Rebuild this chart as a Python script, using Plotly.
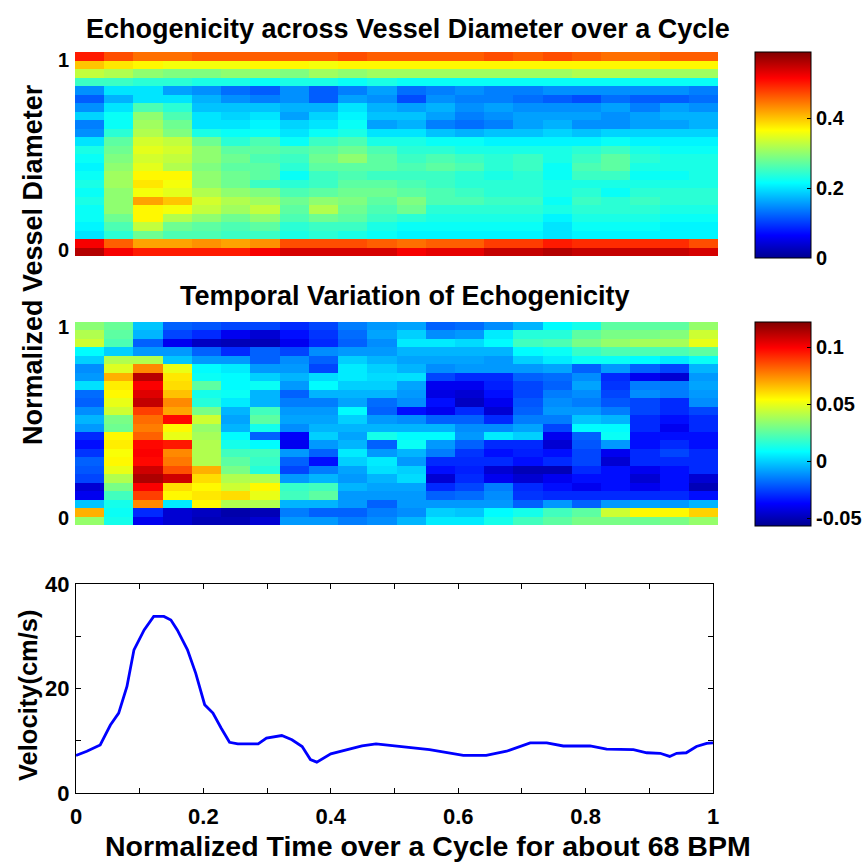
import numpy as np
import plotly.graph_objects as go

# ---------------- data ----------------
# Echogenicity (top map): one list per time column (22 columns), rows listed from top (diameter 1) to bottom (0)
echo_cols = [
    [0.50, 0.40, 0.33, 0.25, 0.15, 0.12, 0.15, 0.19, 0.14, 0.15, 0.20, 0.23, 0.22, 0.21, 0.22, 0.23, 0.22, 0.23, 0.22, 0.22, 0.21, 0.20, 0.52, 0.56],
    [0.47, 0.38, 0.32, 0.25, 0.20, 0.17, 0.20, 0.22, 0.22, 0.24, 0.27, 0.28, 0.29, 0.30, 0.31, 0.31, 0.30, 0.30, 0.30, 0.28, 0.26, 0.24, 0.46, 0.52],
    [0.45, 0.37, 0.30, 0.24, 0.20, 0.20, 0.26, 0.30, 0.31, 0.32, 0.34, 0.35, 0.34, 0.35, 0.37, 0.38, 0.36, 0.42, 0.37, 0.37, 0.33, 0.28, 0.42, 0.50],
    [0.45, 0.36, 0.29, 0.24, 0.16, 0.20, 0.24, 0.26, 0.28, 0.29, 0.33, 0.34, 0.33, 0.32, 0.37, 0.36, 0.35, 0.40, 0.36, 0.32, 0.28, 0.26, 0.42, 0.50],
    [0.46, 0.36, 0.29, 0.23, 0.15, 0.17, 0.18, 0.20, 0.20, 0.23, 0.28, 0.30, 0.30, 0.29, 0.30, 0.30, 0.32, 0.34, 0.33, 0.30, 0.27, 0.26, 0.43, 0.50],
    [0.46, 0.36, 0.30, 0.23, 0.13, 0.15, 0.18, 0.19, 0.20, 0.22, 0.24, 0.27, 0.28, 0.27, 0.28, 0.28, 0.30, 0.32, 0.31, 0.28, 0.26, 0.25, 0.42, 0.50],
    [0.46, 0.37, 0.30, 0.22, 0.12, 0.14, 0.18, 0.20, 0.21, 0.22, 0.26, 0.27, 0.26, 0.27, 0.27, 0.25, 0.29, 0.31, 0.33, 0.30, 0.27, 0.25, 0.43, 0.52],
    [0.46, 0.37, 0.29, 0.23, 0.15, 0.15, 0.17, 0.16, 0.19, 0.20, 0.22, 0.26, 0.25, 0.24, 0.22, 0.24, 0.26, 0.28, 0.27, 0.26, 0.24, 0.23, 0.47, 0.54],
    [0.46, 0.36, 0.31, 0.23, 0.12, 0.12, 0.17, 0.19, 0.20, 0.22, 0.25, 0.27, 0.28, 0.27, 0.25, 0.25, 0.27, 0.30, 0.32, 0.28, 0.25, 0.24, 0.47, 0.54],
    [0.47, 0.37, 0.30, 0.22, 0.14, 0.16, 0.20, 0.21, 0.22, 0.23, 0.26, 0.28, 0.30, 0.27, 0.26, 0.27, 0.28, 0.29, 0.28, 0.27, 0.25, 0.23, 0.47, 0.54],
    [0.46, 0.37, 0.31, 0.23, 0.16, 0.15, 0.17, 0.18, 0.16, 0.20, 0.23, 0.26, 0.27, 0.27, 0.25, 0.27, 0.28, 0.27, 0.26, 0.25, 0.23, 0.22, 0.46, 0.54],
    [0.46, 0.37, 0.31, 0.22, 0.13, 0.11, 0.16, 0.18, 0.17, 0.20, 0.23, 0.24, 0.25, 0.26, 0.25, 0.26, 0.27, 0.29, 0.28, 0.24, 0.22, 0.21, 0.45, 0.52],
    [0.46, 0.37, 0.31, 0.22, 0.14, 0.15, 0.17, 0.16, 0.14, 0.18, 0.22, 0.24, 0.26, 0.27, 0.25, 0.25, 0.26, 0.26, 0.24, 0.23, 0.22, 0.21, 0.46, 0.53],
    [0.46, 0.37, 0.31, 0.22, 0.15, 0.14, 0.15, 0.14, 0.13, 0.17, 0.22, 0.23, 0.25, 0.26, 0.24, 0.24, 0.25, 0.26, 0.24, 0.23, 0.22, 0.21, 0.46, 0.53],
    [0.47, 0.37, 0.31, 0.22, 0.14, 0.14, 0.16, 0.15, 0.14, 0.18, 0.21, 0.23, 0.24, 0.24, 0.23, 0.24, 0.24, 0.25, 0.24, 0.23, 0.22, 0.21, 0.48, 0.55],
    [0.46, 0.37, 0.31, 0.22, 0.14, 0.13, 0.15, 0.16, 0.16, 0.18, 0.21, 0.23, 0.25, 0.25, 0.24, 0.24, 0.24, 0.25, 0.24, 0.23, 0.22, 0.21, 0.48, 0.55],
    [0.47, 0.37, 0.31, 0.22, 0.15, 0.12, 0.15, 0.16, 0.17, 0.19, 0.21, 0.23, 0.23, 0.22, 0.22, 0.23, 0.23, 0.22, 0.23, 0.21, 0.20, 0.20, 0.50, 0.56],
    [0.46, 0.37, 0.32, 0.22, 0.15, 0.11, 0.15, 0.16, 0.15, 0.18, 0.21, 0.24, 0.25, 0.26, 0.25, 0.23, 0.24, 0.25, 0.24, 0.23, 0.22, 0.21, 0.49, 0.55],
    [0.45, 0.37, 0.32, 0.22, 0.15, 0.13, 0.16, 0.15, 0.15, 0.19, 0.22, 0.25, 0.27, 0.27, 0.25, 0.23, 0.22, 0.24, 0.24, 0.23, 0.22, 0.21, 0.49, 0.55],
    [0.45, 0.37, 0.31, 0.22, 0.15, 0.12, 0.14, 0.16, 0.16, 0.19, 0.21, 0.23, 0.24, 0.23, 0.22, 0.23, 0.24, 0.25, 0.24, 0.23, 0.22, 0.21, 0.49, 0.55],
    [0.46, 0.37, 0.31, 0.22, 0.15, 0.12, 0.16, 0.17, 0.16, 0.19, 0.21, 0.22, 0.23, 0.23, 0.22, 0.23, 0.24, 0.24, 0.23, 0.22, 0.21, 0.21, 0.49, 0.55],
    [0.46, 0.37, 0.31, 0.22, 0.14, 0.13, 0.15, 0.17, 0.17, 0.19, 0.21, 0.22, 0.23, 0.23, 0.23, 0.23, 0.24, 0.24, 0.23, 0.22, 0.21, 0.21, 0.47, 0.54],
]

# Temporal variation of echogenicity (middle map), same layout
var_cols = [
    [0.033, 0.040, 0.045, 0.008, 0.000, -0.012, -0.010, 0.003, -0.018, -0.020, -0.012, -0.005, -0.010, -0.030, -0.035, -0.028, -0.020, -0.022, -0.025, -0.045, -0.040, -0.002, 0.068, 0.035],
    [0.027, 0.025, 0.022, 0.000, 0.040, 0.048, 0.068, 0.057, 0.055, 0.050, 0.045, 0.030, 0.028, 0.055, 0.057, 0.053, 0.055, 0.050, 0.040, 0.030, 0.020, 0.012, 0.010, 0.012],
    [-0.002, -0.005, -0.020, -0.010, 0.040, 0.075, 0.112, 0.100, 0.105, 0.110, 0.088, 0.080, 0.077, 0.082, 0.098, 0.100, 0.098, 0.108, 0.114, 0.100, 0.088, 0.075, -0.030, -0.040],
    [-0.020, -0.025, -0.040, -0.010, -0.002, 0.050, 0.058, 0.060, 0.065, 0.075, 0.070, 0.098, 0.055, 0.050, 0.095, 0.075, 0.078, 0.085, 0.108, 0.060, 0.055, 0.005, -0.045, -0.045],
    [-0.022, -0.030, -0.048, -0.020, -0.010, 0.008, 0.010, 0.025, 0.012, 0.015, 0.030, 0.045, 0.035, 0.038, 0.040, 0.040, 0.040, 0.068, 0.060, 0.055, 0.058, 0.055, -0.048, -0.050],
    [-0.025, -0.040, -0.050, -0.030, -0.010, 0.005, 0.008, 0.008, 0.010, 0.005, -0.005, -0.008, -0.005, 0.008, 0.012, 0.020, 0.025, 0.030, 0.040, 0.045, 0.060, 0.040, -0.052, -0.050],
    [-0.025, -0.045, -0.050, -0.020, -0.020, -0.010, 0.000, 0.010, -0.005, -0.005, 0.020, 0.025, 0.012, -0.020, 0.008, 0.020, 0.018, 0.015, 0.040, 0.055, 0.050, 0.040, -0.050, -0.045],
    [-0.030, -0.035, -0.040, -0.025, -0.012, -0.010, -0.005, -0.010, -0.020, -0.015, -0.010, -0.008, -0.012, -0.038, -0.040, -0.010, -0.020, -0.025, -0.010, 0.018, 0.020, -0.005, -0.015, -0.010],
    [-0.025, -0.028, -0.030, -0.012, -0.020, -0.025, 0.002, 0.008, -0.005, -0.015, -0.010, -0.008, -0.005, 0.000, -0.010, -0.020, -0.035, -0.015, -0.005, 0.020, 0.025, -0.005, -0.020, -0.010],
    [-0.015, -0.018, -0.020, -0.010, 0.000, 0.005, 0.005, 0.000, -0.005, -0.008, 0.008, 0.000, -0.005, -0.008, -0.005, 0.005, 0.000, -0.008, -0.010, -0.005, -0.010, -0.010, -0.020, -0.015],
    [-0.010, -0.008, -0.012, -0.010, -0.005, 0.000, 0.002, 0.000, -0.005, -0.018, -0.020, -0.010, -0.005, 0.012, -0.020, -0.010, 0.005, 0.003, -0.005, -0.008, -0.010, -0.020, -0.015, -0.012],
    [-0.008, 0.000, 0.005, -0.005, -0.008, -0.005, 0.003, -0.008, -0.010, -0.012, -0.035, -0.012, -0.005, 0.008, 0.010, -0.005, -0.010, 0.000, 0.002, -0.008, -0.010, -0.010, -0.012, -0.005],
    [-0.020, -0.012, 0.005, -0.005, -0.008, -0.012, -0.025, -0.040, -0.042, -0.035, -0.040, -0.020, -0.005, 0.008, -0.010, -0.015, -0.030, -0.035, -0.045, -0.030, -0.020, -0.010, 0.000, 0.005],
    [-0.018, -0.010, 0.002, -0.005, -0.008, -0.010, -0.030, -0.040, -0.045, -0.048, -0.030, -0.020, -0.012, -0.010, -0.020, -0.028, -0.030, -0.032, -0.030, -0.025, -0.018, -0.010, -0.002, 0.005],
    [-0.012, 0.005, 0.008, -0.005, -0.010, -0.010, -0.030, -0.032, -0.035, -0.040, -0.045, -0.030, -0.012, 0.005, -0.030, -0.035, -0.030, -0.045, -0.040, -0.015, -0.012, -0.010, 0.008, 0.012],
    [-0.005, 0.015, 0.020, 0.008, 0.000, -0.010, -0.020, -0.025, -0.025, -0.022, -0.020, -0.015, -0.008, 0.000, -0.030, -0.032, -0.035, -0.050, -0.045, -0.030, -0.028, -0.020, 0.012, 0.020],
    [0.008, 0.015, 0.022, 0.010, 0.005, -0.008, -0.018, -0.020, -0.015, -0.012, -0.010, -0.015, -0.025, -0.040, -0.045, -0.035, -0.030, -0.050, -0.040, -0.035, -0.030, -0.010, 0.020, 0.025],
    [0.012, 0.025, 0.030, 0.018, 0.010, -0.020, -0.012, -0.008, -0.012, -0.015, -0.010, -0.002, 0.008, -0.020, -0.022, -0.025, -0.025, -0.030, -0.035, -0.040, -0.030, -0.020, 0.025, 0.030],
    [0.025, 0.030, 0.035, 0.022, 0.010, -0.010, -0.030, -0.028, -0.025, -0.022, -0.015, -0.005, 0.008, 0.010, -0.010, -0.040, -0.045, -0.035, -0.035, -0.035, -0.030, -0.010, 0.045, 0.030],
    [0.025, 0.030, 0.038, 0.022, 0.008, -0.020, -0.040, -0.015, -0.012, -0.025, -0.025, -0.030, -0.030, -0.035, -0.035, -0.030, -0.030, -0.040, -0.045, -0.040, -0.030, -0.008, 0.055, 0.028],
    [0.025, 0.032, 0.038, 0.022, 0.005, -0.025, -0.045, -0.015, -0.015, -0.030, -0.030, -0.035, -0.040, -0.035, -0.030, -0.025, -0.030, -0.035, -0.035, -0.035, -0.030, -0.010, 0.055, 0.030],
    [0.035, 0.045, 0.050, 0.025, 0.010, -0.005, -0.010, -0.008, -0.010, -0.012, -0.025, -0.030, -0.030, -0.035, -0.035, -0.030, -0.030, -0.030, -0.045, -0.050, -0.035, -0.005, 0.062, 0.035],
]

# Velocity trace
vel_t = [0, 0.017, 0.038, 0.054, 0.067, 0.080, 0.091, 0.107, 0.122, 0.138, 0.149, 0.159, 0.175, 0.188,
         0.202, 0.215, 0.228, 0.241, 0.254, 0.286, 0.299, 0.323, 0.339, 0.355, 0.368, 0.378, 0.400,
         0.428, 0.449, 0.471, 0.508, 0.555, 0.608, 0.644, 0.676, 0.713, 0.739, 0.765, 0.807, 0.833,
         0.875, 0.896, 0.917, 0.932, 0.943, 0.958, 0.974, 0.990, 1.0]
vel_v = [7.2, 8.0, 9.2, 13.0, 15.3, 20.4, 27.4, 31.2, 33.8, 33.8, 33.1, 31.2, 27.4, 22.9,
         16.9, 15.3, 12.4, 9.7, 9.4, 9.4, 10.5, 11.0, 10.2, 8.9, 6.4, 5.9, 7.5,
         8.3, 9.0, 9.4, 8.9, 8.3, 7.2, 7.2, 8.0, 9.6, 9.6, 9.0, 9.0, 8.4,
         8.3, 7.7, 7.6, 7.0, 7.6, 7.7, 8.9, 9.5, 9.6]

x_ticks = [0, 0.1, 0.2, 0.3, 0.4, 0.5, 0.6, 0.7, 0.8, 0.9, 1.0]
x_ticktext = ["0", "", "0.2", "", "0.4", "", "0.6", "", "0.8", "", "1"]
v_ticks = [0, 10, 20, 30, 40]
v_ticktext = ["0", "", "20", "", "40"]

# ---------------- figure ----------------
W, H = 868, 863
FONT = "Liberation Sans, Arial, sans-serif"

jet = [[0.0, "rgb(0,0,143)"], [0.11, "rgb(0,0,255)"], [0.365, "rgb(0,255,255)"],
       [0.62, "rgb(255,255,0)"], [0.873, "rgb(255,0,0)"], [1.0, "rgb(128,0,0)"]]

def px_x(p):
    return p / W

def px_y(p):
    return 1 - p / H

z1 = np.array(echo_cols).T[::-1]
z2 = np.array(var_cols).T[::-1]
ncol = z1.shape[1]
nrow = z1.shape[0]

cb_font = dict(family=FONT, size=20, color="black", weight="bold")
ax_font = dict(family=FONT, size=22, color="black", weight="bold")

fig = go.Figure()

# top map
y1_lo, y1_hi = -0.032, 1.042
fig.add_trace(go.Heatmap(
    z=z1, x0=0.5 / ncol, dx=1 / ncol, y0=y1_lo + (y1_hi - y1_lo) / nrow / 2, dy=(y1_hi - y1_lo) / nrow,
    colorscale=jet, zmin=0, zmax=0.59, xaxis="x", yaxis="y",
    colorbar=dict(x=px_x(755), xanchor="left", y=px_y(52), yanchor="top", len=206, lenmode="pixels",
                  thickness=56, thicknessmode="pixels", outlinewidth=1, outlinecolor="black",
                  tickvals=[0, 0.2, 0.4], ticktext=["0", "0.2", "0.4"], ticks="inside", ticklen=4,
                  tickcolor="black", tickfont=cb_font, ypad=0, xpad=0),
    hoverinfo="skip"))

# middle map
y2_lo, y2_hi = -0.037, 1.026
fig.add_trace(go.Heatmap(
    z=z2, x0=0.5 / ncol, dx=1 / ncol, y0=y2_lo + (y2_hi - y2_lo) / nrow / 2, dy=(y2_hi - y2_lo) / nrow,
    colorscale=jet, zmin=-0.057, zmax=0.122, xaxis="x2", yaxis="y2",
    colorbar=dict(x=px_x(755), xanchor="left", y=px_y(322), yanchor="top", len=204, lenmode="pixels",
                  thickness=56, thicknessmode="pixels", outlinewidth=1, outlinecolor="black",
                  tickvals=[-0.05, 0, 0.05, 0.1], ticktext=["-0.05", "0", "0.05", "0.1"], ticks="inside",
                  ticklen=4, tickcolor="black", tickfont=cb_font, ypad=0, xpad=0),
    hoverinfo="skip"))

# velocity line
fig.add_trace(go.Scatter(x=vel_t, y=vel_v, mode="lines", line=dict(color="rgb(0,0,255)", width=2.8),
                         xaxis="x3", yaxis="y3", showlegend=False, hoverinfo="skip"))

fig.update_layout(
    width=W, height=H, margin=dict(l=0, r=0, t=0, b=0, autoexpand=False),
    paper_bgcolor="white", plot_bgcolor="white", showlegend=False,
    xaxis=dict(domain=[px_x(75), px_x(718)], range=[0, 1], showticklabels=False, ticks="",
               showgrid=False, zeroline=False, anchor="y", automargin=False),
    yaxis=dict(domain=[px_y(256), px_y(52)], range=[y1_lo, y1_hi], tickvals=[0, 1], ticktext=["0", "1"],
               ticks="", tickfont=cb_font, showgrid=False, zeroline=False, anchor="x", ticklabelstandoff=5,
               automargin=False),
    xaxis2=dict(domain=[px_x(75), px_x(718)], range=[0, 1], showticklabels=False, ticks="",
                showgrid=False, zeroline=False, anchor="y2", automargin=False),
    yaxis2=dict(domain=[px_y(525), px_y(322)], range=[y2_lo, y2_hi], tickvals=[0, 1], ticktext=["0", "1"],
                ticks="", tickfont=cb_font, showgrid=False, zeroline=False, anchor="x2", ticklabelstandoff=5,
                automargin=False),
    xaxis3=dict(domain=[px_x(76), px_x(713)], range=[0, 1], tickvals=x_ticks, ticktext=x_ticktext,
                ticks="inside", ticklen=5, tickcolor="black", showline=True, linecolor="black", linewidth=1,
                mirror="ticks", showgrid=False, zeroline=False, tickfont=ax_font, anchor="y3", automargin=False,
                ticklabelstandoff=4),
    yaxis3=dict(domain=[px_y(793), px_y(584)], range=[0, 40], tickvals=v_ticks, ticktext=v_ticktext,
                ticks="inside", ticklen=5, tickcolor="black", showline=True, linecolor="black", linewidth=1,
                mirror="ticks", showgrid=False, zeroline=False, tickfont=ax_font, anchor="x3",
                ticklabelstandoff=1, automargin=False),
)

title_font = dict(family=FONT, size=27, color="black", weight="bold")
fig.add_annotation(text="Echogenicity across Vessel Diameter over a Cycle", x=px_x(408), y=px_y(29),
                   xref="paper", yref="paper", showarrow=False, font=title_font, xanchor="center", yanchor="middle")
fig.add_annotation(text="Temporal Variation of Echogenicity", x=px_x(405), y=px_y(296),
                   xref="paper", yref="paper", showarrow=False, font=title_font, xanchor="center", yanchor="middle")
fig.add_annotation(text="Normalized Vessel Diameter", x=px_x(33), y=px_y(265), textangle=-90,
                   xref="paper", yref="paper", showarrow=False, font=title_font, xanchor="center", yanchor="middle")
fig.add_annotation(text="Velocity(cm/s)", x=px_x(28), y=px_y(695), textangle=-90,
                   xref="paper", yref="paper", showarrow=False, font=dict(family=FONT, size=25.5, color="black", weight="bold"),
                   xanchor="center", yanchor="middle")
fig.add_annotation(text="Normalized Time over a Cycle for about 68 BPM", x=px_x(428), y=px_y(846),
                   xref="paper", yref="paper", showarrow=False, font=dict(family=FONT, size=28.5, color="black", weight="bold"),
                   xanchor="center", yanchor="middle")

fig.write_html("out.html", config={"displayModeBar": False},
               post_script="document.body.style.margin='0px';document.body.style.padding='0px';")
